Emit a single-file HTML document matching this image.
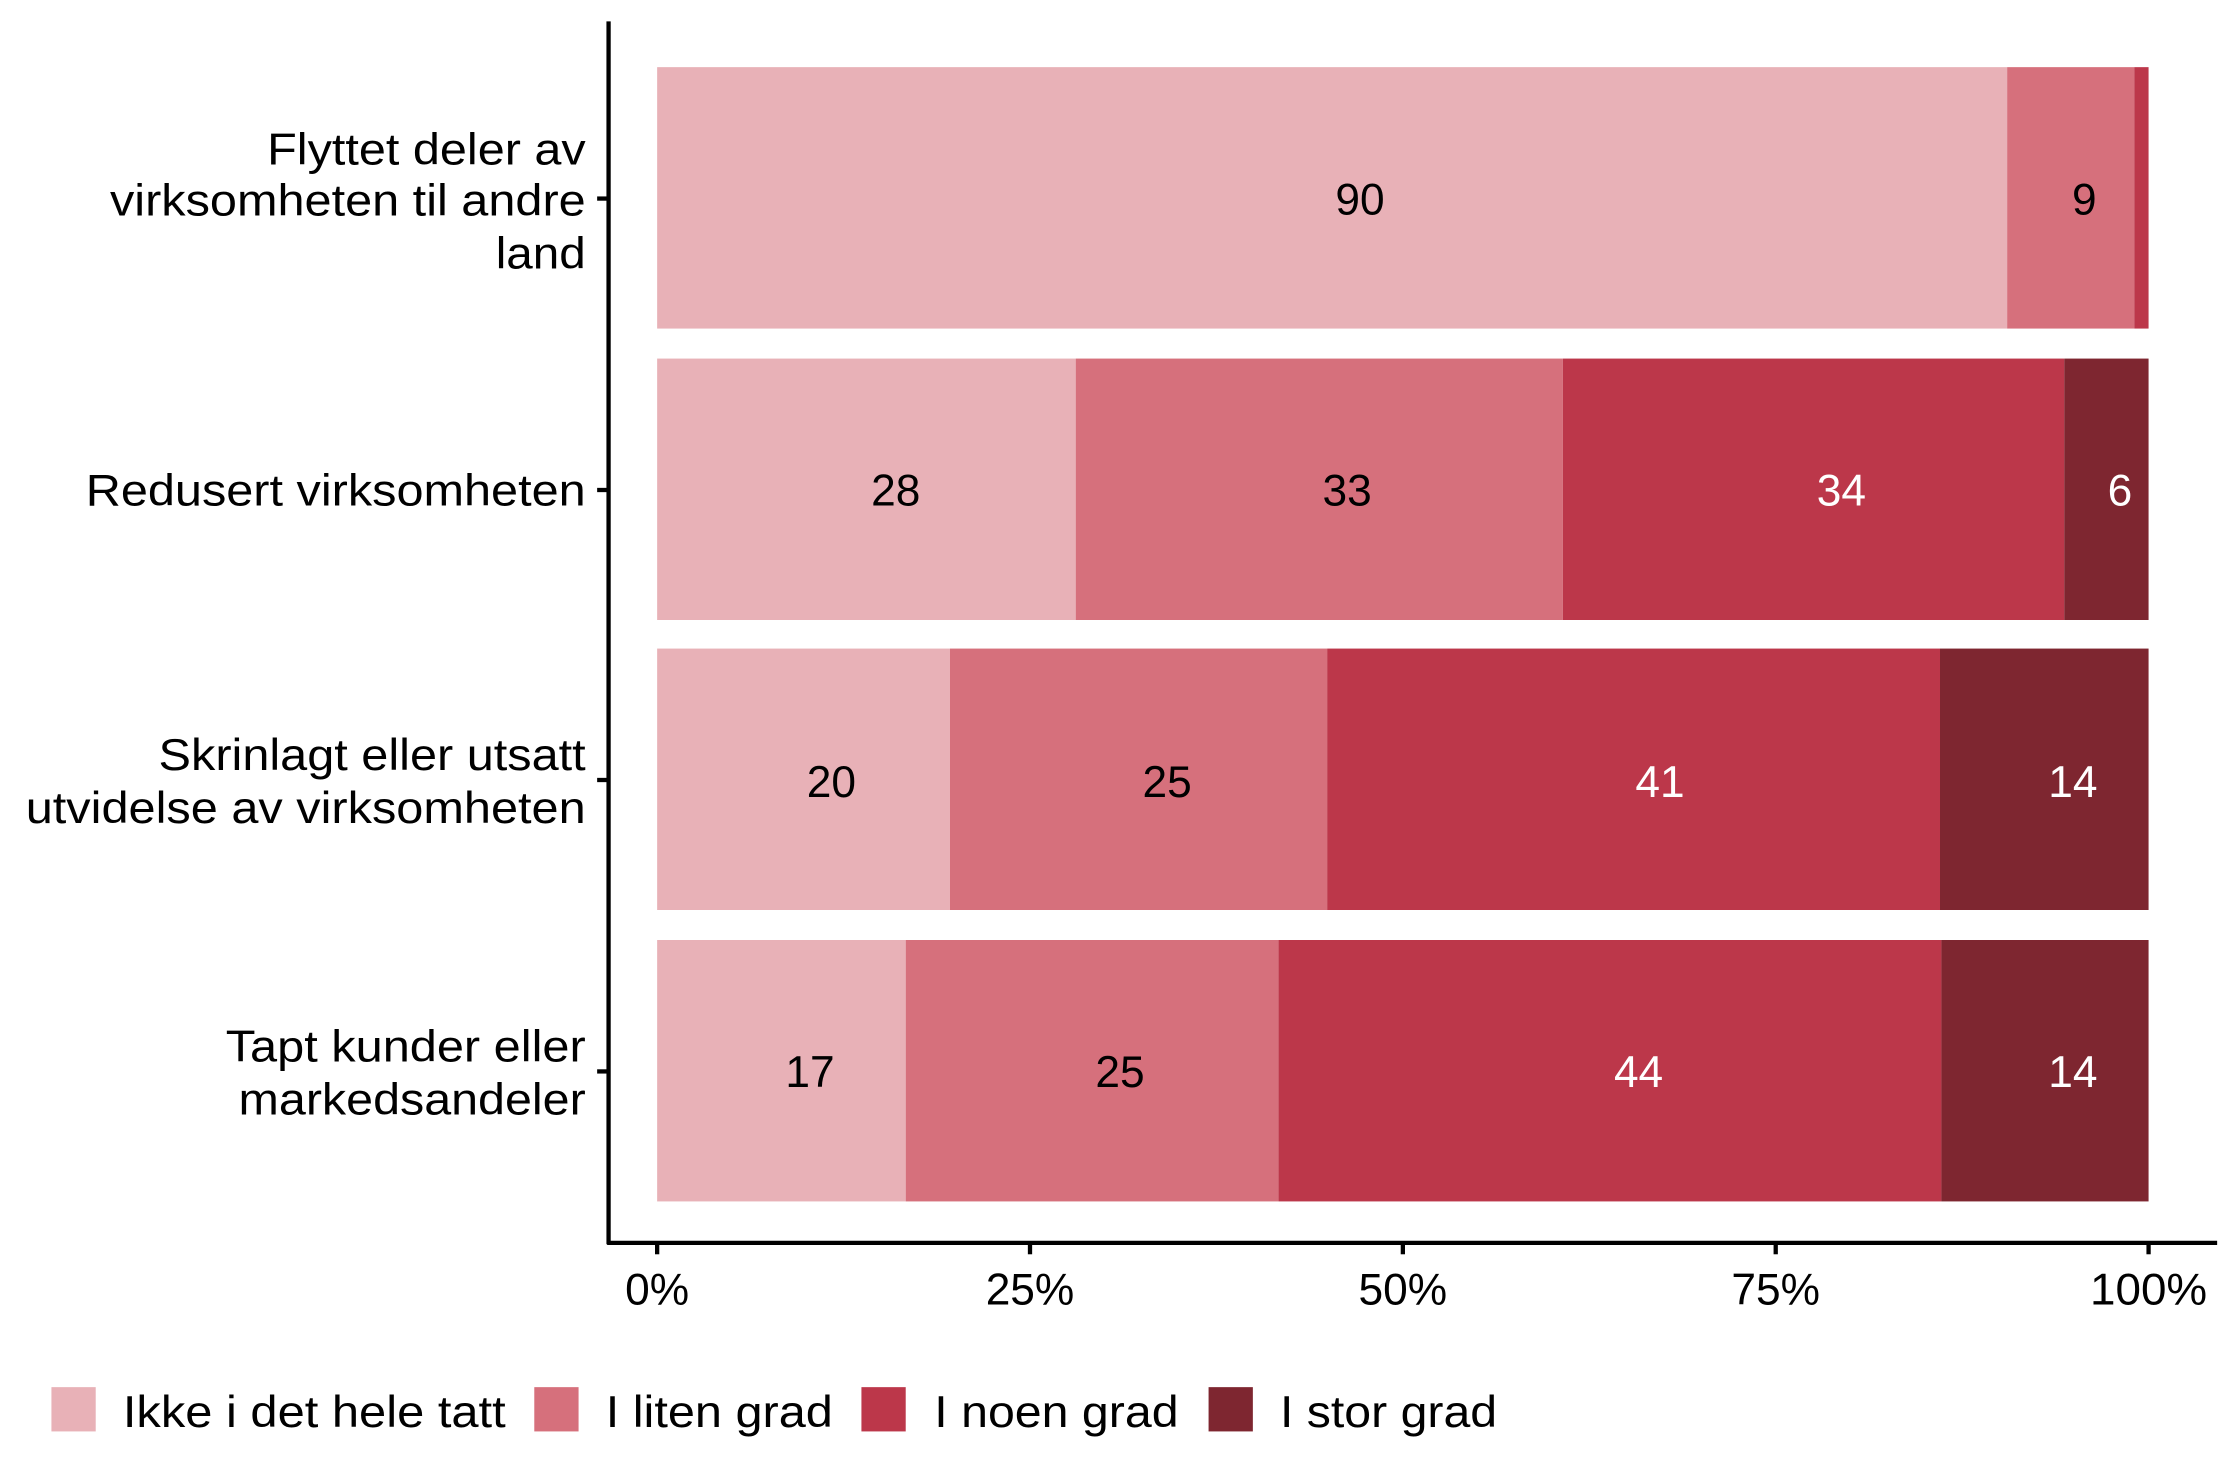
<!DOCTYPE html>
<html><head><meta charset="utf-8"><style>html,body{margin:0;padding:0;background:#fff}svg{display:block}</style></head><body>
<svg width="2240" height="1484" viewBox="0 0 1568 1038.8" preserveAspectRatio="none" xmlns="http://www.w3.org/2000/svg" font-family="Liberation Sans, Arial, sans-serif">
<rect width="1568" height="1039" fill="#fff"/>
<g>
<rect x="460" y="47" width="945" height="183" fill="#E8B1B7"/>
<rect x="1405" y="47" width="89" height="183" fill="#D6707C"/>
<rect x="1494" y="47" width="10" height="183" fill="#BC374A"/>
<rect x="460" y="251" width="293" height="183" fill="#E8B1B7"/>
<rect x="753" y="251" width="341" height="183" fill="#D6707C"/>
<rect x="1094" y="251" width="351" height="183" fill="#BC374A"/>
<rect x="1445" y="251" width="59" height="183" fill="#7E2630"/>
<rect x="460" y="454" width="205" height="183" fill="#E8B1B7"/>
<rect x="665" y="454" width="264" height="183" fill="#D6707C"/>
<rect x="929" y="454" width="429" height="183" fill="#BC374A"/>
<rect x="1358" y="454" width="146" height="183" fill="#7E2630"/>
<rect x="460" y="658" width="174" height="183" fill="#E8B1B7"/>
<rect x="634" y="658" width="261" height="183" fill="#D6707C"/>
<rect x="895" y="658" width="464" height="183" fill="#BC374A"/>
<rect x="1359" y="658" width="145" height="183" fill="#7E2630"/>
</g>
<g font-size="31" text-anchor="middle" fill="#000">
<text x="952" y="150">90</text><text x="1459" y="150">9</text>
<text x="627" y="354">28</text><text x="943" y="354">33</text><text x="1289" y="354" fill="#fff">34</text><text x="1484" y="354" fill="#fff">6</text>
<text x="582" y="558">20</text><text x="817" y="558">25</text><text x="1162" y="558" fill="#fff">41</text><text x="1451" y="558" fill="#fff">14</text>
<text x="567" y="761">17</text><text x="784" y="761">25</text><text x="1147" y="761" fill="#fff">44</text><text x="1451" y="761" fill="#fff">14</text>
</g>
<g stroke="#000" stroke-width="3">
<line x1="426" y1="15" x2="426" y2="871"/>
<line x1="425" y1="870" x2="1552" y2="870"/>
<line x1="418" y1="139" x2="426" y2="139"/><line x1="418" y1="343" x2="426" y2="343"/><line x1="418" y1="546" x2="426" y2="546"/><line x1="418" y1="750" x2="426" y2="750"/>
<line x1="460" y1="870" x2="460" y2="878"/><line x1="721" y1="870" x2="721" y2="878"/><line x1="982" y1="870" x2="982" y2="878"/><line x1="1243" y1="870" x2="1243" y2="878"/><line x1="1504" y1="870" x2="1504" y2="878"/>
</g>
<g font-size="31" text-anchor="middle" fill="#000">
<text x="460" y="913">0%</text><text x="721" y="913">25%</text><text x="982" y="913">50%</text><text x="1243" y="913">75%</text><text x="1504" y="913" textLength="82" lengthAdjust="spacingAndGlyphs">100%</text>
</g>
<g font-size="31" fill="#000" lengthAdjust="spacingAndGlyphs">
<text x="187" y="115" textLength="223" lengthAdjust="spacingAndGlyphs">Flyttet deler av</text>
<text x="77" y="151" textLength="333" lengthAdjust="spacingAndGlyphs">virksomheten til andre</text>
<text x="347" y="188" textLength="63" lengthAdjust="spacingAndGlyphs">land</text>
<text x="60" y="354" textLength="350" lengthAdjust="spacingAndGlyphs">Redusert virksomheten</text>
<text x="111" y="539" textLength="299" lengthAdjust="spacingAndGlyphs">Skrinlagt eller utsatt</text>
<text x="18" y="576" textLength="392" lengthAdjust="spacingAndGlyphs">utvidelse av virksomheten</text>
<text x="158" y="743" textLength="252" lengthAdjust="spacingAndGlyphs">Tapt kunder eller</text>
<text x="167" y="780" textLength="243" lengthAdjust="spacingAndGlyphs">markedsandeler</text>
</g>
<rect x="36" y="971" width="31" height="31" fill="#E8B1B7"/>
<rect x="374" y="971" width="31" height="31" fill="#D6707C"/>
<rect x="603" y="971" width="31" height="31" fill="#BC374A"/>
<rect x="846" y="971" width="31" height="31" fill="#7E2630"/>
<g font-size="31" fill="#000">
<text x="86" y="999" textLength="268" lengthAdjust="spacingAndGlyphs">Ikke i det hele tatt</text>
<text x="424" y="999" textLength="159" lengthAdjust="spacingAndGlyphs">I liten grad</text>
<text x="654" y="999" textLength="171" lengthAdjust="spacingAndGlyphs">I noen grad</text>
<text x="896" y="999" textLength="152" lengthAdjust="spacingAndGlyphs">I stor grad</text>
</g>
</svg>
</body></html>
